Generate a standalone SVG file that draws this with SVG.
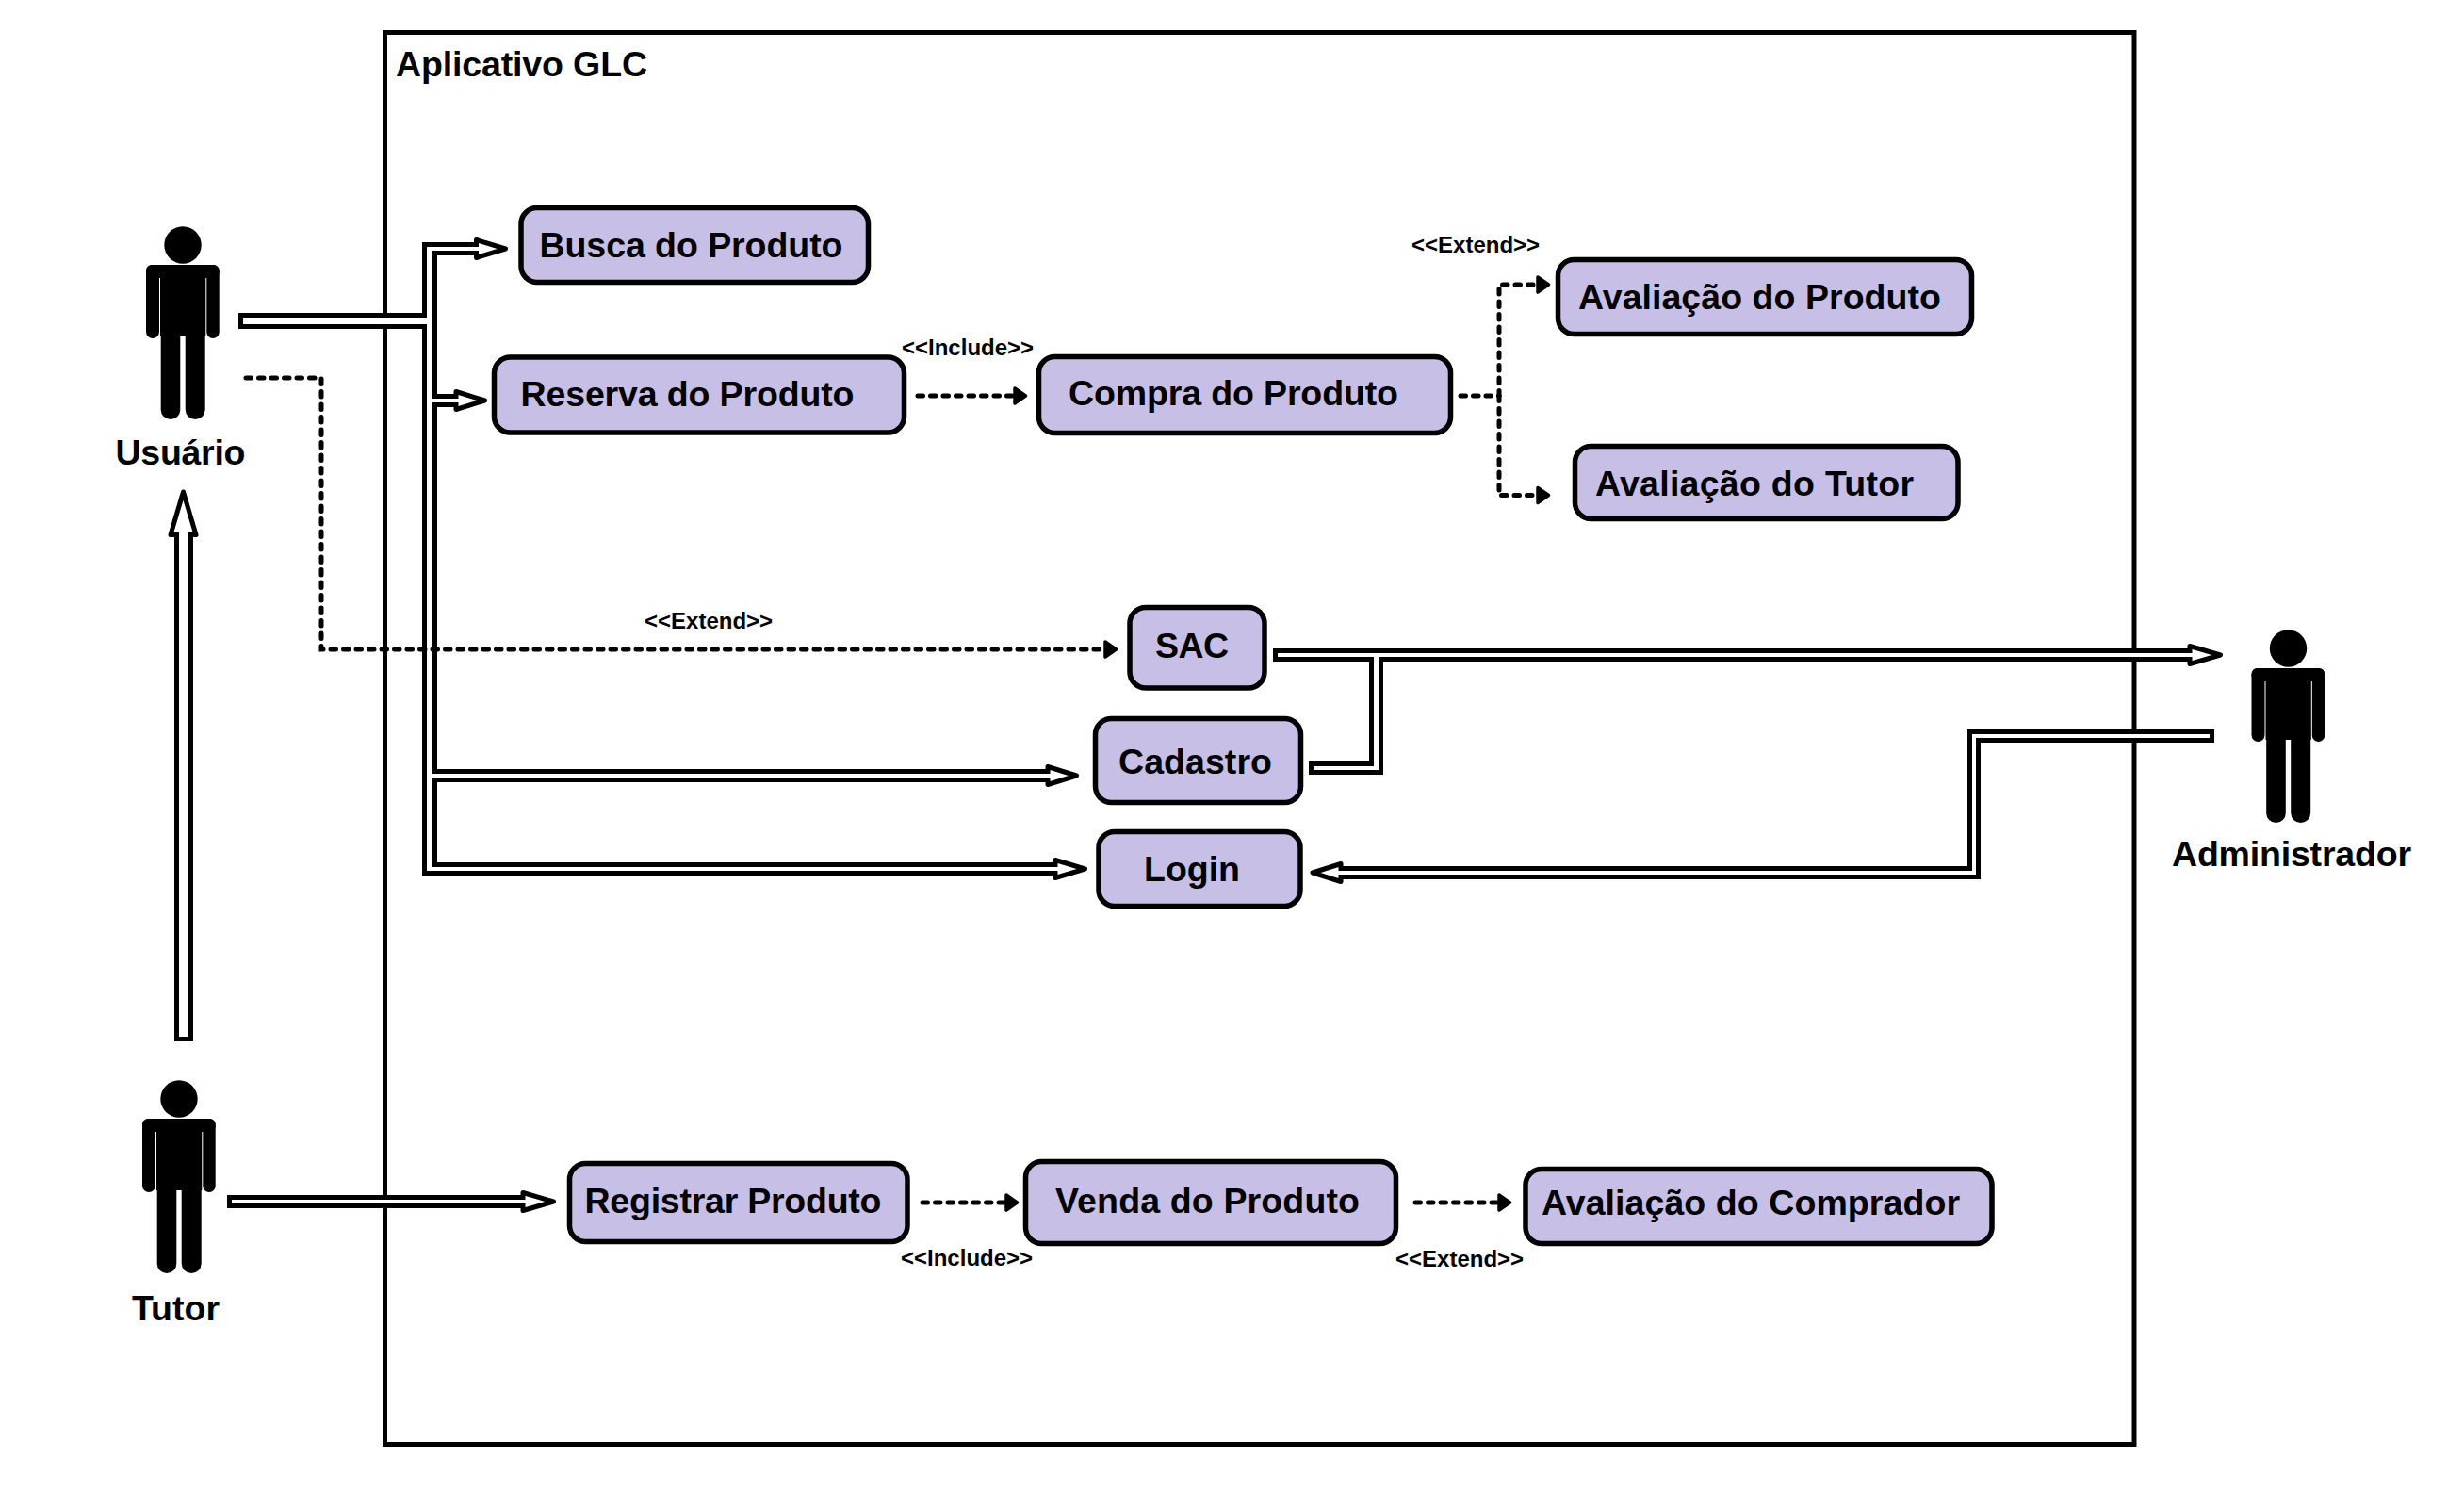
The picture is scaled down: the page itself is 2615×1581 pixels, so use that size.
<svg xmlns="http://www.w3.org/2000/svg" xmlns:xlink="http://www.w3.org/1999/xlink" width="2615" height="1581" viewBox="0 0 2615 1581">
<style>
text{font-family:"Liberation Sans",Arial,sans-serif;font-weight:700;fill:#000}
.t{font-size:37.5px}
.s{font-size:24px}
.uc{fill:#C7BFE6;stroke:#000;stroke-width:5.5;stroke-linejoin:round}
.b{fill:#000}
.w{fill:#fff}
.h{fill:#fff;stroke:#000;stroke-width:5;stroke-linejoin:round}
.d{fill:none;stroke:#000;stroke-width:5;stroke-dasharray:5.5 8;stroke-linecap:round;marker-end:url(#head)}
.d2{fill:none;stroke:#000;stroke-width:5;stroke-dasharray:5.5 8;stroke-linecap:round}
</style>
<defs>
<marker id="head" markerUnits="userSpaceOnUse" markerWidth="18" markerHeight="24" refX="1" refY="12" orient="auto">
<path d="M2,4 L13.5,12 L2,20 Z" fill="#000" stroke="#000" stroke-width="3.5" stroke-linejoin="round"/>
</marker>
<g id="actor">
<circle cx="194" cy="260" r="19.7"/>
<rect x="155" y="281" width="77.7" height="14" rx="6"/>
<rect x="155" y="281" width="14" height="78" rx="7"/>
<rect x="219.3" y="281" width="13.4" height="78" rx="6.7"/>
<rect x="170" y="285" width="48.3" height="72"/>
<rect x="170.7" y="340" width="20.6" height="105" rx="10.3"/>
<rect x="196.7" y="340" width="21" height="105" rx="10.5"/>
</g>
</defs>
<rect width="2615" height="1581" fill="#fff"/>
<g id="sistema">
<rect x="408.5" y="34.5" width="1856.5" height="1498" fill="none" stroke="#000" stroke-width="5"/>
<text class="t" x="420" y="81" textLength="267">Aplicativo GLC</text>
</g>
<g id="connectors">
<g id="usuario-branches">
<path class="b" d="M448,257H510V271H464V418H486V432H464V816H1115V830H464V915H1122V929H448V349H253V332H448Z"/>
<polygon class="h" points="505.5,254.5 536.5,264 505.5,273.5"/>
<polygon class="h" points="484,415.5 514.5,425 484,434.5"/>
<polygon class="h" points="1112,813.5 1142.5,823 1112,832.5"/>
<polygon class="h" points="1120,912.5 1151.5,922 1120,931.5"/>
<path class="w" d="M453,262H510V266H459V423H488V427H459V821H1117V825H459V920H1124V924H453V344H258V337H453Z"/>
</g>
<g id="tutor-usuario">
<path class="b" d="M185,1105V562H205V1105Z"/>
<polygon class="h" points="181,567.5 194.5,522 208,567.5"/>
<path class="w" d="M190,1100V560H200V1100Z"/>
</g>
<g id="tutor-registrar">
<path class="b" d="M241,1268H560V1282H241Z"/>
<polygon class="h" points="555,1265.5 587.5,1275 555,1284.5"/>
<path class="w" d="M246,1273H562V1277H246Z"/>
</g>
<g id="admin-sac-cadastro">
<path class="b" d="M1351,688H2330V702H1468V822H1389V808H1453V702H1351Z"/>
<polygon class="h" points="2324,685.5 2356.5,695 2324,704.5"/>
<path class="w" d="M1356,693H2332V697H1463V817H1394V813H1458V697H1356Z"/>
</g>
<g id="admin-login">
<path class="b" d="M2350,774V788H2102V933H1418V919H2088V774Z"/>
<polygon class="h" points="1423,916.5 1393,926 1423,935.5"/>
<path class="w" d="M2345,779V783H2097V928H1416V924H2093V779Z"/>
</g>
<path class="d" d="M261,401H341V689H1172"/>
<path class="d" d="M974,420H1076"/>
<path class="d2" d="M1550,420H1591"/>
<path class="d" d="M1591,420V302H1631"/>
<path class="d" d="M1591,420V525.5H1631"/>
<path class="d" d="M979,1276H1067"/>
<path class="d" d="M1502,1276H1590"/>
</g>
<g id="usuario"><use xlink:href="#actor" href="#actor"/><text class="t" x="122.5" y="493" textLength="138">Usuário</text></g>
<g id="tutor"><use xlink:href="#actor" href="#actor" x="-4" y="906"/><text class="t" x="140" y="1401" textLength="93">Tutor</text></g>
<g id="administrador"><use xlink:href="#actor" href="#actor" x="2234.5" y="428"/><text class="t" x="2305" y="919" textLength="254">Administrador</text></g>
<g id="busca"><rect class="uc" x="553" y="220.5" width="368.5" height="79" rx="17"/><text class="t" x="572.5" y="273" textLength="322">Busca do Produto</text></g>
<g id="reserva"><rect class="uc" x="524.5" y="379" width="435" height="80" rx="17"/><text class="t" x="552.5" y="431" textLength="354">Reserva do Produto</text></g>
<g id="compra"><rect class="uc" x="1102.5" y="378.5" width="437" height="81" rx="17"/><text class="t" x="1134" y="429.5" textLength="350">Compra do Produto</text></g>
<g id="avaliacao-produto"><rect class="uc" x="1653.5" y="275.5" width="439" height="79" rx="17"/><text class="t" x="1675" y="328" textLength="385">Avaliação do Produto</text></g>
<g id="avaliacao-tutor"><rect class="uc" x="1671.5" y="473.5" width="406.5" height="77" rx="17"/><text class="t" x="1693" y="526" textLength="338">Avaliação do Tutor</text></g>
<g id="sac"><rect class="uc" x="1199" y="644.5" width="143" height="85.5" rx="17"/><text class="t" x="1226" y="698" textLength="78">SAC</text></g>
<g id="cadastro"><rect class="uc" x="1162.5" y="762.5" width="218" height="89" rx="17"/><text class="t" x="1187" y="821" textLength="163">Cadastro</text></g>
<g id="login"><rect class="uc" x="1166" y="882.5" width="214" height="79" rx="17"/><text class="t" x="1214" y="935" textLength="102">Login</text></g>
<g id="registrar"><rect class="uc" x="604.5" y="1234.5" width="358.5" height="83" rx="17"/><text class="t" x="620.5" y="1287" textLength="315">Registrar Produto</text></g>
<g id="venda"><rect class="uc" x="1088.5" y="1232.5" width="393" height="87" rx="17"/><text class="t" x="1120" y="1287" textLength="323">Venda do Produto</text></g>
<g id="avaliacao-comprador"><rect class="uc" x="1619" y="1240.5" width="495" height="79" rx="17"/><text class="t" x="1636" y="1289" textLength="444">Avaliação do Comprador</text></g>
<g id="rotulos">
<text class="s" x="957" y="377">&lt;&lt;Include&gt;&gt;</text>
<text class="s" x="1498" y="268">&lt;&lt;Extend&gt;&gt;</text>
<text class="s" x="684" y="667">&lt;&lt;Extend&gt;&gt;</text>
<text class="s" x="956" y="1343">&lt;&lt;Include&gt;&gt;</text>
<text class="s" x="1481" y="1344">&lt;&lt;Extend&gt;&gt;</text>
</g>
</svg>
